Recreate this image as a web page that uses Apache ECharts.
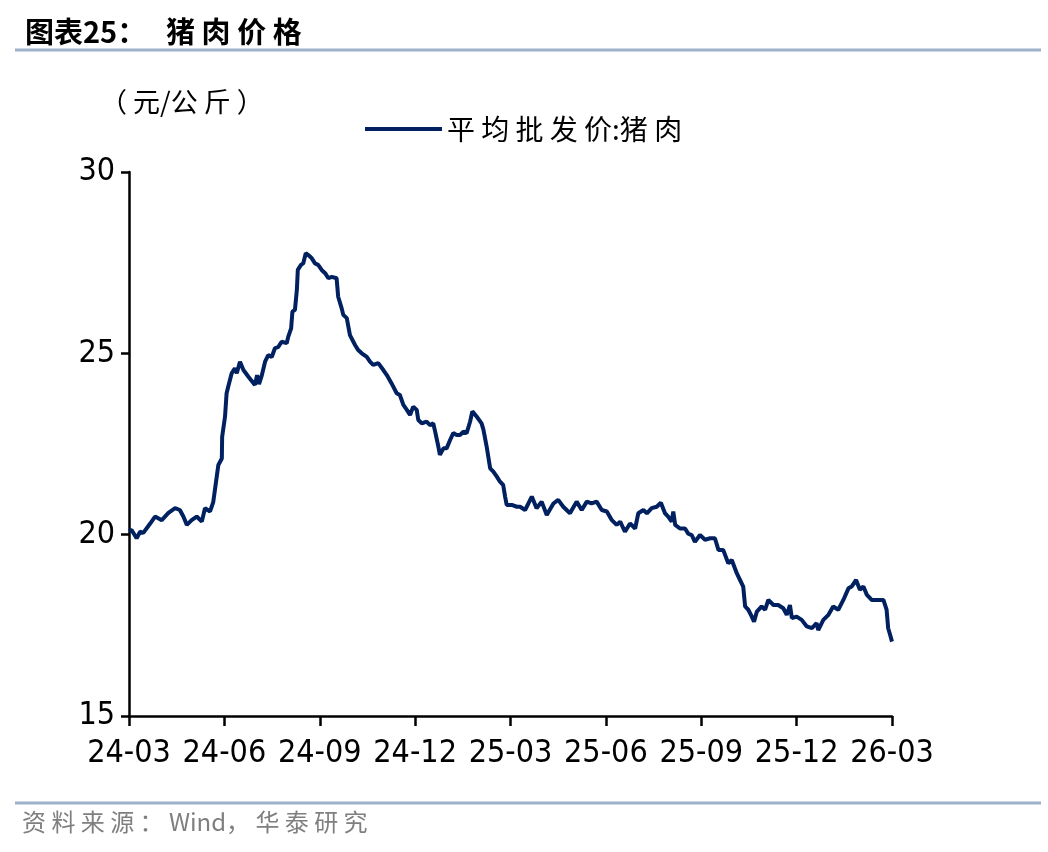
<!DOCTYPE html>
<html>
<head>
<meta charset="utf-8">
<script src="https://cdn.jsdelivr.net/npm/echarts@6/dist/echarts.min.js"></script>
<style>
html,body{margin:0;padding:0;background:#fff;}
#c{width:1048px;height:852px;}
</style>
</head>
<body>
<div id="c"></div>
<script>
// x positions in months since 2024-03
var monthPos = [0.00,0.08,0.24,0.35,0.45,0.66,0.82,1.03,1.24,1.45,1.60,1.71,1.82,1.97,2.13,2.29,2.39,2.55,2.65,2.76,2.81,2.92,2.93,3.02,3.07,3.12,3.23,3.33,3.39,3.49,3.60,3.75,3.96,4.03,4.09,4.18,4.28,4.38,4.49,4.59,4.70,4.80,4.96,5.01,5.10,5.14,5.22,5.28,5.31,5.41,5.48,5.56,5.64,5.75,5.85,5.95,6.06,6.17,6.27,6.38,6.53,6.58,6.69,6.74,6.85,6.95,7.11,7.21,7.32,7.48,7.58,7.68,7.84,8.00,8.11,8.26,8.42,8.52,8.63,8.74,8.84,8.94,9.05,9.10,9.21,9.36,9.47,9.57,9.63,9.73,9.78,9.89,9.99,10.10,10.20,10.31,10.41,10.52,10.62,10.73,10.80,10.94,11.09,11.15,11.25,11.36,11.46,11.57,11.67,11.77,11.83,11.88,12.04,12.20,12.30,12.46,12.67,12.82,12.98,13.14,13.35,13.50,13.66,13.87,14.08,14.24,14.40,14.55,14.71,14.87,15.03,15.18,15.34,15.45,15.60,15.76,15.92,16.02,16.18,16.29,16.44,16.60,16.73,16.86,16.96,17.07,17.12,17.18,17.33,17.49,17.59,17.70,17.80,17.96,18.12,18.28,18.43,18.54,18.69,18.85,18.96,19.12,19.22,19.32,19.38,19.48,19.59,19.66,19.75,19.90,20.01,20.11,20.27,20.42,20.58,20.69,20.79,20.85,21.00,21.16,21.32,21.48,21.63,21.68,21.84,22.00,22.15,22.31,22.47,22.63,22.73,22.87,22.99,23.10,23.21,23.36,23.57,23.73,23.83,23.88,23.94,24.00];
var porkPrice = [20.10,20.13,19.90,20.08,20.05,20.30,20.50,20.40,20.60,20.73,20.68,20.50,20.27,20.40,20.50,20.36,20.73,20.64,20.90,21.60,21.92,22.10,22.70,23.25,23.90,24.08,24.45,24.59,24.45,24.77,24.54,24.36,24.13,24.40,24.15,24.40,24.77,24.95,24.90,25.14,25.18,25.32,25.28,25.46,25.69,26.15,26.20,26.75,27.30,27.44,27.48,27.76,27.71,27.62,27.48,27.44,27.30,27.21,27.07,27.11,27.07,26.56,26.24,26.06,25.97,25.50,25.23,25.09,25.00,24.90,24.77,24.68,24.73,24.54,24.40,24.17,23.90,23.85,23.58,23.44,23.30,23.53,23.44,23.16,23.07,23.12,23.02,23.07,22.84,22.43,22.20,22.38,22.38,22.61,22.80,22.75,22.75,22.84,22.80,23.12,23.40,23.25,23.07,22.89,22.43,21.83,21.74,21.60,21.46,21.37,21.05,20.82,20.82,20.77,20.77,20.68,21.05,20.73,20.91,20.54,20.86,20.96,20.77,20.59,20.91,20.68,20.91,20.86,20.91,20.68,20.64,20.41,20.27,20.36,20.08,20.31,20.17,20.59,20.68,20.59,20.73,20.77,20.88,20.59,20.50,20.36,20.64,20.27,20.17,20.17,20.03,19.99,19.80,19.99,19.86,19.90,19.90,19.58,19.58,19.21,19.30,18.93,18.75,18.57,18.02,17.93,17.74,17.60,17.88,18.02,17.93,18.20,18.06,18.06,17.97,17.79,18.06,17.70,17.74,17.65,17.47,17.42,17.56,17.37,17.65,17.79,18.02,17.93,18.20,18.52,18.57,18.75,18.48,18.57,18.34,18.20,18.20,18.20,17.93,17.42,17.24,17.05];
var xTickLabels = ['24-03','24-06','24-09','24-12','25-03','25-06','25-09','25-12','26-03'];
var seriesName = '平均批发价:猪肉';

var seriesData = monthPos.map(function(m, i){ return [m, porkPrice[i]]; });
var narrow = "'Liberation Sans Narrow','Arial Narrow','DejaVu Sans Condensed','Liberation Sans',sans-serif";
var cjk = "'Noto Sans CJK SC','Noto Sans',sans-serif";

var chart = echarts.init(document.getElementById('c'), null, {renderer:'canvas'});
chart.setOption({
  backgroundColor:'#ffffff',
  animation:false,
  title:{
    text:'图表25：   猪 肉 价 格',
    left:20, top:12,
    textStyle:{fontFamily:cjk, fontSize:29, fontWeight:'bold', color:'#000'}
  },
  graphic:[
    {type:'line', shape:{x1:15,y1:50,x2:1041,y2:50}, style:{stroke:'#9db2c9', lineWidth:3}},
    {type:'line', shape:{x1:15,y1:803,x2:1041,y2:803}, style:{stroke:'#9db2c9', lineWidth:3}},
    {type:'text', left:22, top:810, style:{text:'资 料 来 源 ： Wind， 华 泰 研 究', fontFamily:cjk, fontSize:24, fill:'#7f7f7f'}},
    {type:'text', left:100, top:88, style:{text:'（ 元/公 斤 ）', fontFamily:cjk, fontSize:27, fill:'#000'}}
  ],
  legend:{
    data:[seriesName],
    left:360, top:110,
    icon:'rect', itemWidth:77, itemHeight:4, itemGap:8,
    formatter:function(n){ return n.split('').join(' ').replace(' : ',':'); },
    textStyle:{fontFamily:cjk, fontSize:28, color:'#000'}
  },
  grid:{left:129, right:156, top:172, bottom:136, containLabel:false},
  xAxis:{
    type:'value', min:0, max:24, interval:3,
    axisLine:{show:true, lineStyle:{color:'#000', width:2.5}},
    axisTick:{show:true, length:10, lineStyle:{color:'#000', width:2.5}},
    splitLine:{show:false},
    axisLabel:{
      margin:22, fontFamily:narrow, fontSize:32, color:'#000',
      formatter:function(v){ return xTickLabels[Math.round(v/3)] || ''; }
    }
  },
  yAxis:{
    type:'value', min:15, max:30, interval:5,
    axisLine:{show:true, lineStyle:{color:'#000', width:2.5}},
    axisTick:{show:true, length:8, lineStyle:{color:'#000', width:2.5}},
    splitLine:{show:false},
    axisLabel:{margin:14, fontFamily:narrow, fontSize:32, color:'#000'}
  },
  series:[{
    name:seriesName, type:'line', data:seriesData,
    showSymbol:false, symbol:'none',
    lineStyle:{color:'#002060', width:4},
    itemStyle:{color:'#002060'}
  }]
});
</script>
</body>
</html>
